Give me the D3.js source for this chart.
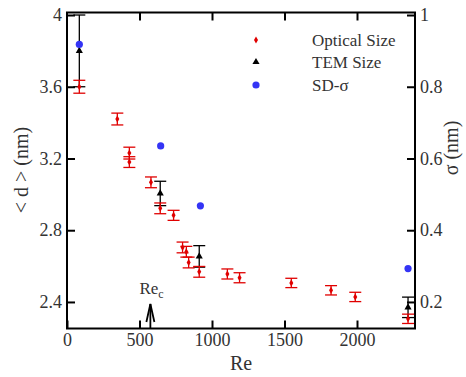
<!DOCTYPE html>
<html>
<head>
<meta charset="utf-8">
<script src="https://cdn.jsdelivr.net/npm/d3@7"></script>
<style>
  body { margin: 0; background: #fff; }
  svg text { font-family: "Liberation Serif", "DejaVu Serif", serif; fill: #333; }
</style>
</head>
<body>
<div id="chart"></div>
<script>
// Optical size (red)
const opticalRe = [85, 347, 430, 430, 579, 643, 735, 797, 823, 839, 912, 1106, 1190, 1547, 1821, 1988, 2352];
const opticalD = [3.60, 3.42, 3.23, 3.18, 3.067, 2.922, 2.883, 2.704, 2.68, 2.62, 2.568, 2.556, 2.535, 2.506, 2.465, 2.428, 2.306];
const opticalErr = [0.036, 0.033, 0.033, 0.03, 0.03, 0.03, 0.028, 0.03, 0.03, 0.03, 0.03, 0.028, 0.028, 0.026, 0.026, 0.026, 0.026];

// TEM size (black)
const temRe = [85, 643, 912, 2352];
const temD = [3.80, 3.005, 2.654, 2.37];
const temErr = [0.2, 0.068, 0.06, 0.057];

// SD-sigma (blue, right axis)
const sigmaRe = [85, 646, 920, 2352];
const sigmaVal = [0.918, 0.635, 0.468, 0.293];

const xTicks = [0, 500, 1000, 1500, 2000];
const yLeftTicks = [2.4, 2.8, 3.2, 3.6, 4];
const yRightTicks = [0.2, 0.4, 0.6, 0.8, 1];
const legendLabels = ['Optical Size', 'TEM Size', 'SD-\u03c3'];

const width = 466, height = 377;
const margin = { left: 67, right: 51, top: 12.5, bottom: 48.5 };

const x = d3.scaleLinear().domain([0, 2400]).range([margin.left, width - margin.right]);
const yL = d3.scaleLinear().domain([2.252, 4.014]).range([height - margin.bottom, margin.top]);
const yR = d3.scaleLinear().domain([0.126, 1.007]).range([height - margin.bottom, margin.top]);

const red = '#e00000', blue = '#3434f5';

const svg = d3.select('#chart').append('svg')
    .attr('width', width)
    .attr('height', height);

// axes with inward ticks
const tickLen = 8;
svg.append('g')
    .attr('transform', `translate(0,${height - margin.bottom})`)
    .call(d3.axisBottom(x).tickValues(xTicks).tickSize(-tickLen).tickPadding(5).tickFormat(d3.format('d')))
    .call(g => g.selectAll('text').attr('font-size', 18));
svg.append('g')
    .attr('transform', `translate(0,${margin.top})`)
    .call(d3.axisTop(x).tickValues(xTicks.slice(1)).tickSize(-tickLen).tickFormat(''));
svg.append('g')
    .attr('transform', `translate(${margin.left},0)`)
    .call(d3.axisLeft(yL).tickValues(yLeftTicks).tickSize(-tickLen).tickPadding(5).tickFormat(d => d === 4 ? '4' : d3.format('.1f')(d)))
    .call(g => g.selectAll('text').attr('font-size', 18));
svg.append('g')
    .attr('transform', `translate(${width - margin.right},0)`)
    .call(d3.axisRight(yR).tickValues(yRightTicks).tickSize(-tickLen).tickPadding(5).tickFormat(d => d === 1 ? '1' : d3.format('.1f')(d)))
    .call(g => g.selectAll('text').attr('font-size', 18));

svg.selectAll('.domain').remove();
svg.selectAll('.tick line').attr('stroke', '#000').attr('stroke-width', 2);

svg.append('rect')
    .attr('x', margin.left)
    .attr('y', margin.top)
    .attr('width', width - margin.left - margin.right)
    .attr('height', height - margin.top - margin.bottom)
    .attr('fill', 'none')
    .attr('stroke', '#000')
    .attr('stroke-width', 2);

// error bars helper
function errorBars(xs, ys, errs, color) {
    const g = svg.append('g').attr('stroke', color).attr('stroke-width', 1.3);
    xs.forEach((v, i) => {
        const cx = x(v), top = yL(ys[i] + errs[i]), bot = yL(ys[i] - errs[i]);
        g.append('line').attr('x1', cx).attr('x2', cx).attr('y1', top).attr('y2', bot);
        g.append('line').attr('x1', cx - 6).attr('x2', cx + 6).attr('y1', top).attr('y2', top);
        g.append('line').attr('x1', cx - 6).attr('x2', cx + 6).attr('y1', bot).attr('y2', bot);
    });
}

errorBars(temRe, temD, temErr, '#000');
errorBars(opticalRe, opticalD, opticalErr, red);

const diamond = d3.symbol().type(d3.symbolDiamond).size(14);
const triangle = d3.symbol().type(d3.symbolTriangle).size(22);

svg.append('g').selectAll('path')
    .data(opticalRe)
    .join('path')
    .attr('d', diamond)
    .attr('transform', (d, i) => `translate(${x(d)},${yL(opticalD[i])})`)
    .attr('fill', red);

svg.append('g').selectAll('path')
    .data(temRe)
    .join('path')
    .attr('d', triangle)
    .attr('transform', (d, i) => `translate(${x(d)},${yL(temD[i])})`)
    .attr('fill', '#000');

svg.append('g').selectAll('circle')
    .data(sigmaRe)
    .join('circle')
    .attr('cx', d => x(d))
    .attr('cy', (d, i) => yR(sigmaVal[i]))
    .attr('r', 3.6)
    .attr('fill', blue);

// legend
const legend = svg.append('g');
const legY = [40, 62, 85];
legend.append('path').attr('d', diamond).attr('fill', red).attr('transform', `translate(256,${legY[0]})`);
legend.append('path').attr('d', triangle).attr('fill', '#000').attr('transform', `translate(256,${legY[1]})`);
legend.append('circle').attr('cx', 256).attr('cy', legY[2]).attr('r', 3.6).attr('fill', blue);
legend.selectAll('text')
    .data(legendLabels)
    .join('text')
    .attr('x', 312)
    .attr('y', (d, i) => legY[i] + 6)
    .attr('font-size', 17)
    .text(d => d);

// Re_c arrow
const reC = 575;
const ax = x(reC);
const arrow = svg.append('g').attr('stroke', '#000').attr('stroke-width', 1.8).attr('fill', 'none');
arrow.append('line').attr('x1', ax).attr('x2', ax).attr('y1', height - margin.bottom).attr('y2', 304);
arrow.append('path').attr('d', `M${ax - 4},${322} L${ax},${304} L${ax + 4},${322}`);
const rec = svg.append('text').attr('x', ax - 11).attr('y', 294).attr('font-size', 17);
rec.append('tspan').text('Re');
rec.append('tspan').attr('font-size', 12).attr('dy', 4).text('c');

// axis titles
svg.append('text')
    .attr('x', x(1200))
    .attr('y', 370)
    .attr('text-anchor', 'middle')
    .attr('font-size', 20)
    .text('Re');
svg.append('text')
    .attr('transform', `translate(28,170) rotate(-90)`)
    .attr('text-anchor', 'middle')
    .attr('font-size', 20)
    .text('< d > (nm)');
svg.append('text')
    .attr('transform', `translate(458,148) rotate(-90)`)
    .attr('text-anchor', 'middle')
    .attr('font-size', 20)
    .text('\u03c3 (nm)');
</script>
</body>
</html>
